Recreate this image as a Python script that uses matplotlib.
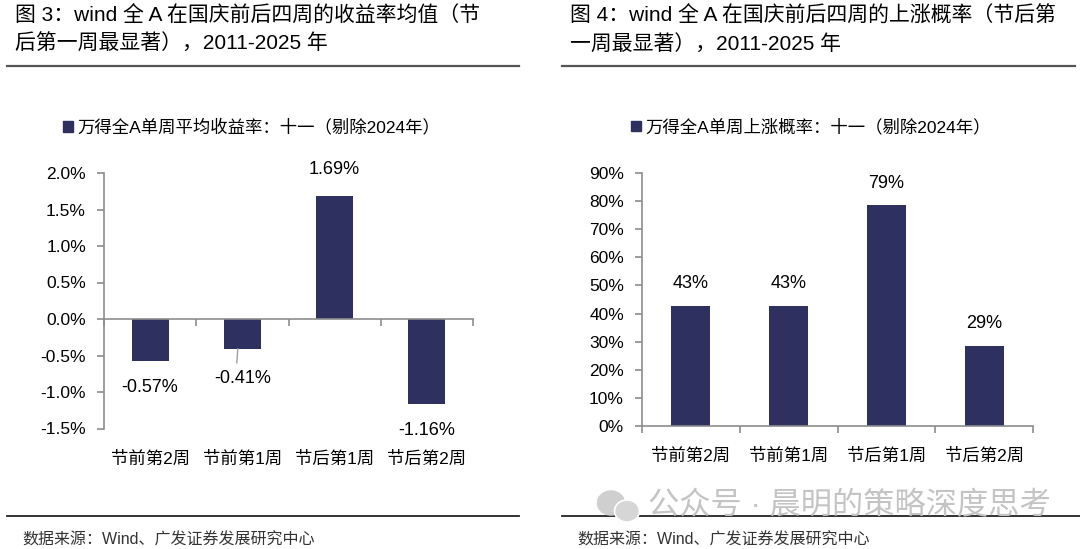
import matplotlib
matplotlib.use("Agg")
import matplotlib.pyplot as plt
from matplotlib.lines import Line2D
from matplotlib.patches import Patch, Ellipse
from matplotlib.ticker import FuncFormatter, FixedLocator

plt.rcParams['font.family'] = ['Liberation Sans', 'Noto Sans CJK SC', 'DejaVu Sans']

# data
weeks = ['节前第2周', '节前第1周', '节后第1周', '节后第2周']
avg_return = [-0.57, -0.41, 1.69, -1.16]        # %
up_prob = [42.86, 42.86, 78.57, 28.57]         # %

title3 = ['图 3：wind 全 A 在国庆前后四周的收益率均值（节', '后第一周最显著），2011-2025 年']
title4 = ['图 4：wind 全 A 在国庆前后四周的上涨概率（节后第', '一周最显著），2011-2025 年']
legend3 = '万得全A单周平均收益率：十一（剔除2024年）'
legend4 = '万得全A单周上涨概率：十一（剔除2024年）'
source = '数据来源：Wind、广发证券发展研究中心'
watermark = '公众号 · 晨明的策略深度思考'

BAR = '#2e3060'
AXC = '#8c8c8c'
W, H = 1080, 549

fig = plt.figure(figsize=(W / 100, H / 100), dpi=100)


def fx(px):
    return px / W


def fy(py):
    return 1 - py / H


def hline(x0, x1, y, lw=1.4, color='#3a3a3a'):
    fig.add_artist(Line2D([fx(x0), fx(x1)], [fy(y), fy(y)], transform=fig.transFigure,
                          color=color, lw=lw))


def style_axes(ax, zero_spine):
    for s in ['top', 'right']:
        ax.spines[s].set_visible(False)
    for s in ['left', 'bottom']:
        ax.spines[s].set_color(AXC)
        ax.spines[s].set_linewidth(1.2)
    if zero_spine:
        ax.spines['bottom'].set_position(('data', 0))
    n = len(weeks)
    ax.set_xlim(-0.5, n - 0.5)
    ax.xaxis.set_major_locator(FixedLocator([i - 0.5 for i in range(n + 1)]))
    ax.tick_params(axis='x', direction='out', length=5, width=1.2, color=AXC, labelbottom=False)
    ax.tick_params(axis='y', direction='out', length=5, width=1.2, color=AXC,
                   labelsize=12.5, pad=8)
    for i, w in enumerate(weeks):
        ax.annotate(w, xy=(i, 0), xycoords=ax.get_xaxis_transform(), xytext=(0, -30),
                    textcoords='offset pixels', ha='center', va='center', fontsize=12.5)


# ---- left: average weekly return
ax1 = fig.add_axes([fx(104), fy(428.5), fx(473 - 104), (428.5 - 173) / H])
ax1.bar(range(len(weeks)), avg_return, width=0.4, color=BAR, zorder=2)
ax1.set_ylim(-1.5, 2.0)
ax1.set_yticks([-1.5, -1.0, -0.5, 0.0, 0.5, 1.0, 1.5, 2.0])
ax1.yaxis.set_major_formatter(FuncFormatter(lambda v, p: f'{v:.1f}%'))
style_axes(ax1, True)
for i, v in enumerate(avg_return):
    off = 26 if v > 0 else -27
    if i == 1:
        # label pushed down, with a leader line back to the bar
        off = -30
        ax1.add_line(Line2D([i - 0.05, i - 0.06], [v, v - 0.19], color='#a0a0a0', lw=1))
    ax1.annotate(f'{v:.2f}%', xy=(i, v), xytext=(0, off), textcoords='offset pixels',
                 ha='center', va='center', fontsize=13)

# ---- right: probability of rising
ax2 = fig.add_axes([fx(642), fy(426), fx(1033 - 642), (426 - 173) / H])
ax2.bar(range(len(weeks)), up_prob, width=0.4, color=BAR, zorder=2)
ax2.set_ylim(0, 90)
ax2.set_yticks(range(0, 91, 10))
ax2.yaxis.set_major_formatter(FuncFormatter(lambda v, p: f'{v:.0f}%'))
style_axes(ax2, False)
for i, v in enumerate(up_prob):
    ax2.annotate(f'{v:.0f}%', xy=(i, v), xytext=(0, 22), textcoords='offset pixels',
                 ha='center', va='center', fontsize=13)

# ---- legends
for ax, lab, x0 in [(ax1, legend3, 63), (ax2, legend4, 631)]:
    ax.legend(handles=[Patch(color=BAR, label=lab)], loc='center left',
              bbox_to_anchor=(fx(x0), fy(127)), bbox_transform=fig.transFigure,
              frameon=False, fontsize=12.5, handlelength=0.55, handleheight=0.55,
              handletextpad=0.25, borderpad=0, borderaxespad=0)

# ---- titles, rules, source
for lines, x0 in [(title3, 15), (title4, 570)]:
    fig.text(fx(x0), fy(16), lines[0], fontsize=15, va='center', ha='left')
    fig.text(fx(x0), fy(44), lines[1], fontsize=15, va='center', ha='left')
hline(7, 519, 66, lw=1.6, color='#555555')
hline(562, 1075, 66, lw=1.6, color='#555555')
hline(7, 519, 516, lw=1.3, color='#222222')
hline(562, 1080, 516, lw=1.3, color='#222222')
fig.text(fx(22), fy(540), source, fontsize=11.5, va='center', color='#333333')
fig.text(fx(577), fy(540), source, fontsize=11.5, va='center', color='#333333')

# ---- watermark
fig.text(fx(648), fy(506), watermark, fontsize=22.5, va='center', color='#c4c4c4')
fig.add_artist(Ellipse((fx(611), fy(503)), fx(27), 24 / H, transform=fig.transFigure,
                       color='#cfcfcf', zorder=5))
fig.add_artist(Ellipse((fx(627), fy(511)), fx(25), 22 / H, transform=fig.transFigure,
                       color='#d6d6d6', ec='white', lw=1.2, zorder=6))

fig.savefig('out.png', dpi=100)
